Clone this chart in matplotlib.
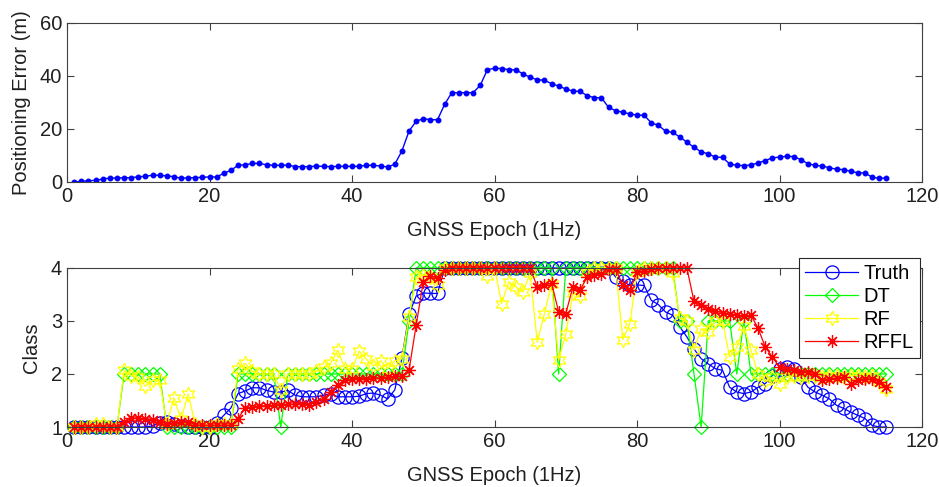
import matplotlib
matplotlib.use("Agg")
import matplotlib.pyplot as plt
import numpy as np

plt.rcParams['font.family'] = ['Liberation Sans', 'DejaVu Sans']

# GNSS epochs 1..115
epoch = np.arange(1, 116)

pos_error = [0.0, 0.2, 0.5, 0.6, 1.1, 1.5, 1.5, 1.6, 1.6, 2.0,
             2.1, 2.6, 2.5, 2.3, 2.0, 1.4, 1.6, 1.6, 1.8, 1.9,
             1.9, 3.3, 4.4, 6.3, 6.5, 7.0, 7.0, 6.5, 6.3, 6.3,
             6.4, 5.8, 5.8, 5.8, 6.0, 5.9, 5.8, 5.9, 5.9, 5.9,
             5.9, 6.3, 6.3, 6.0, 5.7, 6.7, 11.7, 19.2, 22.9, 23.9,
             23.5, 23.5, 29.3, 33.7, 33.7, 33.7, 33.7, 36.5, 42.4, 42.9,
             42.8, 42.4, 42.3, 40.8, 39.5, 38.6, 38.4, 37.1, 36.2, 35.1,
             34.3, 34.2, 32.6, 31.8, 31.8, 28.2, 26.9, 26.3, 25.7, 25.2,
             25.2, 22.3, 21.4, 19.2, 18.7, 17.0, 15.0, 13.1, 11.4, 10.6,
             9.4, 9.3, 6.8, 6.3, 6.2, 6.4, 7.2, 8.1, 9.1, 9.4,
             9.7, 9.6, 8.4, 6.9, 6.3, 6.0, 5.4, 4.8, 4.7, 4.0,
             3.5, 3.4, 1.8, 1.4, 1.5]

truth = [1.0, 1.0, 1.0, 1.0, 1.0, 1.0, 1.0, 1.0, 1.0, 1.0,
         1.0, 1.02, 1.08, 1.1, 1.06, 1.02, 1.0, 1.0, 1.0, 1.0,
         1.08, 1.22, 1.36, 1.63, 1.68, 1.74, 1.74, 1.69, 1.66, 1.66,
         1.69, 1.6, 1.57, 1.57, 1.57, 1.6, 1.63, 1.57, 1.57, 1.57,
         1.58, 1.63, 1.64, 1.6, 1.53, 1.7, 2.3, 3.13, 3.47, 3.53,
         3.52, 3.52, 4.0, 4.0, 4.0, 4.0, 4.0, 4.0, 4.0, 4.0,
         4.0, 4.0, 4.0, 4.0, 4.0, 4.0, 4.0, 4.0, 4.0, 4.0,
         4.0, 4.0, 4.0, 4.0, 4.0, 4.0, 3.83, 3.75, 3.67, 3.68,
         3.67, 3.39, 3.31, 3.17, 3.11, 2.89, 2.7, 2.47, 2.29, 2.19,
         2.1, 2.07, 1.75, 1.66, 1.63, 1.66, 1.75, 1.82, 1.97, 2.1,
         2.13, 2.1, 1.94, 1.75, 1.66, 1.6, 1.53, 1.41, 1.35, 1.28,
         1.22, 1.16, 1.03, 1.0, 1.0]

dt = [1, 1, 1, 1, 1, 1, 1, 2, 2, 2,
      2, 2, 2, 1, 1, 1, 1, 1, 1, 1,
      1, 1, 1, 2, 2, 2, 2, 2, 2, 1,
      2, 2, 2, 2, 2, 2, 2, 2, 2, 2,
      2, 2, 2, 2, 2, 2, 2, 3, 4, 4,
      4, 4, 4, 4, 4, 4, 4, 4, 4, 4,
      4, 4, 4, 4, 4, 4, 4, 4, 2, 4,
      4, 4, 4, 4, 4, 4, 4, 4, 4, 4,
      4, 4, 4, 4, 4, 3, 3, 2, 1, 3,
      3, 3, 3, 2, 3, 2, 2, 2, 2, 2,
      2, 2, 2, 2, 2, 2, 2, 2, 2, 2,
      2, 2, 2, 2, 2]

rf = [1.0, 1.0, 1.0, 1.05, 1.05, 1.0, 1.0, 2.07, 1.97, 1.94,
      1.77, 1.88, 1.88, 1.05, 1.55, 1.15, 1.62, 1.05, 1.0, 1.0,
      1.05, 1.05, 1.05, 2.09, 2.2, 2.05, 2.0, 2.0, 2.0, 1.7,
      2.0, 2.0, 2.0, 2.0, 2.05, 2.13, 2.2, 2.45, 2.1, 2.1,
      2.43, 2.28, 2.15, 2.25, 2.1, 2.25, 2.29, 3.08, 3.83, 3.86,
      3.83, 3.67, 4.0, 4.0, 4.0, 4.0, 4.0, 4.0, 3.85, 4.0,
      3.33, 3.74, 3.64, 3.55, 3.9, 2.6, 3.14, 3.7, 2.26, 2.76,
      3.52, 3.48, 3.9, 4.0, 4.0, 4.0, 4.0, 2.65, 2.95, 3.92,
      4.0, 4.0, 4.0, 4.0, 3.9, 3.05, 3.0, 2.45, 2.85, 2.8,
      3.0, 3.0, 2.32, 2.5, 2.9, 2.45, 2.0, 1.86, 1.94, 1.82,
      1.94, 1.97, 1.95, 1.97, 1.97, 1.95, 1.97, 1.97, 1.95, 1.97,
      1.97, 1.95, 1.97, 1.85, 1.72]

rffl = [1.0, 1.0, 1.0, 1.0, 1.0, 1.0, 1.0, 1.1, 1.17, 1.17,
        1.16, 1.14, 1.1, 1.06, 1.08, 1.09, 1.1, 1.04, 1.03, 1.03,
        1.03, 1.03, 1.03, 1.16, 1.36, 1.38, 1.4, 1.4, 1.41, 1.42,
        1.43, 1.43, 1.44, 1.42, 1.47, 1.53, 1.66, 1.8, 1.88, 1.9,
        1.91, 1.91, 1.92, 1.92, 1.94, 1.96, 1.96, 2.07, 2.92, 3.74,
        3.85, 3.81, 3.97, 4.0, 4.0, 4.0, 4.0, 4.0, 4.0, 4.0,
        4.0, 4.0, 4.0, 4.0, 4.0, 3.64, 3.67, 3.72, 3.17, 3.14,
        3.64, 3.58, 3.83, 3.86, 3.89, 3.99, 3.99, 3.67, 3.58, 3.92,
        3.95, 3.98, 4.0, 4.0, 4.0, 4.0, 4.0, 3.37, 3.31, 3.22,
        3.18, 3.16, 3.14, 3.11, 3.09, 3.11, 2.86, 2.51, 2.32, 2.13,
        2.1, 2.07, 2.04, 2.04, 2.0, 1.88, 1.91, 1.92, 1.94, 1.82,
        1.88, 1.91, 1.9, 1.85, 1.75]

axis_col = '#404040'
fs = 14.5

fig = plt.figure(figsize=(9.39, 4.87), dpi=100)
ax1 = fig.add_axes([0.0714, 0.6263, 0.9105, 0.3265])
ax2 = fig.add_axes([0.0714, 0.1232, 0.9105, 0.3265])

ax1.plot(epoch, pos_error, '.-', color='#0000ff', lw=1, markersize=6.5)
ax1.set_xlim(0, 120)
ax1.set_ylim(0, 60)
ax1.set_yticks([0, 20, 40, 60])
ax1.set_xlabel('GNSS Epoch (1Hz)', fontsize=fs, color='#202020', labelpad=11)
ax1.set_ylabel('Positioning Error (m)', fontsize=fs, color='#202020', labelpad=6)

star6 = (6, 1, 0)
asterisk = (8, 2, 0)
ax2.plot(epoch, truth, '-', color='#0000ff', lw=0.9, marker='o', markersize=9.5,
         markerfacecolor='none', markeredgewidth=0.9, label='Truth', clip_on=False)
ax2.plot(epoch, dt, '-', color='#00ff00', lw=0.9, marker='D', markersize=7.5,
         markerfacecolor='none', markeredgewidth=0.9, label='DT', clip_on=False)
ax2.plot(epoch, rf, '-', color='#ffff00', lw=0.9, marker=star6, markersize=10.5,
         markerfacecolor='none', markeredgewidth=0.9, label='RF', clip_on=False)
ax2.plot(epoch, rffl, '-', color='#ff0000', lw=0.9, marker=asterisk, markersize=9,
         markerfacecolor='none', markeredgewidth=0.9, label='RFFL', clip_on=False)
ax2.set_xlim(0, 120)
ax2.set_ylim(1, 4)
ax2.set_yticks([1, 2, 3, 4])
ax2.set_xlabel('GNSS Epoch (1Hz)', fontsize=fs, color='#202020', labelpad=11)
ax2.set_ylabel('Class', fontsize=fs, color='#202020', labelpad=7)
leg = ax2.legend(loc='upper right', bbox_to_anchor=(0.9977, 1.063), fontsize=fs,
                 fancybox=False, framealpha=1, edgecolor='#262626',
                 handlelength=2.6, borderaxespad=0, borderpad=0.3,
                 labelspacing=0.2, handletextpad=0.3)
leg.get_frame().set_linewidth(0.8)
leg.set_zorder(5)

for ax in (ax1, ax2):
    ax.set_xticks(range(0, 121, 20))
    ax.tick_params(direction='in', top=True, right=True, labelsize=fs,
                   colors=axis_col, labelcolor='#202020', length=5)
    for sp in ax.spines.values():
        sp.set_color(axis_col)
        sp.set_linewidth(0.8)

fig.savefig('out.png', dpi=100)
